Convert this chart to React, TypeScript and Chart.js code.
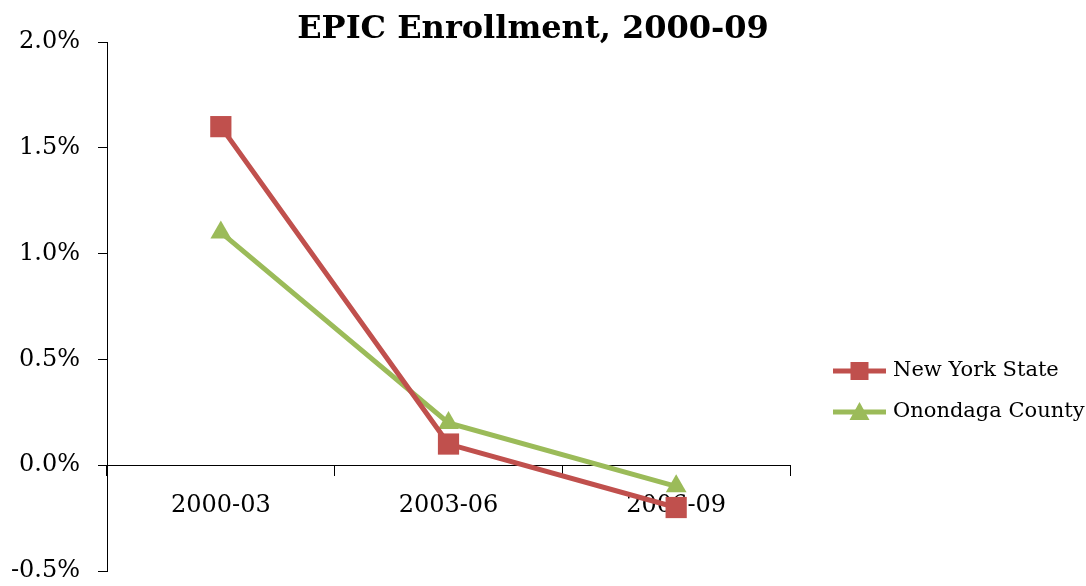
import React, { useEffect, useRef } from "react";
import { Chart, registerables } from "chart.js";

Chart.register(...registerables);

const title = "EPIC Enrollment, 2000-09";
const categories = ["2000-03", "2003-06", "2006-09"];
const seriesNames = ["New York State", "Onondaga County"];
const nysValues = [1.6, 0.1, -0.2];
const onondagaValues = [1.1, 0.2, -0.1];
const colors = ["#C0504D", "#9BBB59"];
const pointStyles = ["rect", "triangle"];
const pointRadii = [15, 12];

const FONT = "'DejaVu Serif', 'Liberation Serif', serif";

export default function App() {
  const ref = useRef<HTMLCanvasElement | null>(null);

  useEffect(() => {
    if (!ref.current) return;

    const titlePlugin = {
      id: "customTitleLegend",
      afterDraw(chart: any) {
        const ctx = chart.ctx;
        ctx.save();
        ctx.fillStyle = "#000";
        ctx.font = `bold 32px ${FONT}`;
        ctx.textAlign = "center";
        ctx.textBaseline = "middle";
        ctx.fillText(title, 533, 30);

        // legend
        const lx0 = 833;
        const lx1 = 886;
        const ys = [371, 412];
        chart.data.datasets.forEach((ds: any, i: number) => {
          const y = ys[i];
          ctx.strokeStyle = ds.borderColor;
          ctx.lineWidth = 5;
          ctx.beginPath();
          ctx.moveTo(lx0, y);
          ctx.lineTo(lx1, y);
          ctx.stroke();
          ctx.fillStyle = ds.borderColor;
          const cx = (lx0 + lx1) / 2;
          ctx.beginPath();
          if (ds.pointStyle === "rect") {
            ctx.rect(cx - 9, y - 9, 18, 18);
          } else {
            ctx.moveTo(cx, y - 10);
            ctx.lineTo(cx + 10, y + 8);
            ctx.lineTo(cx - 10, y + 8);
            ctx.closePath();
          }
          ctx.fill();
          ctx.fillStyle = "#000";
          ctx.font = `21px ${FONT}`;
          ctx.textAlign = "left";
          ctx.textBaseline = "middle";
          ctx.fillText(ds.label, 893, y);
        });
        ctx.restore();
      },
    };

    const chart = new Chart(ref.current, {
      type: "line",
      data: {
        labels: categories,
        datasets: [nysValues, onondagaValues].map((vals, i) => ({
          label: seriesNames[i],
          data: vals,
          borderColor: colors[i],
          backgroundColor: colors[i],
          pointBackgroundColor: colors[i],
          pointBorderColor: colors[i],
          pointStyle: pointStyles[i] as any,
          pointRadius: pointRadii[i],
          pointBorderWidth: 0,
          borderWidth: 5,
          tension: 0,
        })),
      },
      options: {
        animation: false,
        responsive: false,
        maintainAspectRatio: false,
        layout: { padding: { left: 0, top: 42, right: 296, bottom: 11 } },
        plugins: {
          legend: { display: false },
          title: { display: false },
          tooltip: { enabled: false },
        },
        scales: {
          x: {
            type: "category",
            position: { y: 0 } as any,
            offset: true,
            z: 1,
            afterFit: (scale: any) => {
              scale.height = 0;
              scale.paddingLeft = 0;
              scale.paddingRight = 0;
            },
            grid: {
              offset: true,
              drawOnChartArea: false,
              tickLength: 10,
              color: "#000",
              lineWidth: 1,
            },
            border: { color: "#000", width: 1 },
            ticks: {
              color: "#000",
              font: { family: FONT, size: 24 },
              padding: 16,
              maxRotation: 0,
            },
          },
          y: {
            min: -0.5,
            max: 2.0,
            afterFit: (scale: any) => {
              scale.width = 107;
              scale.paddingTop = 0;
              scale.paddingBottom = 0;
            },
            grid: {
              drawOnChartArea: false,
              tickLength: 9,
              color: "#000",
              lineWidth: 1,
            },
            border: { color: "#000", width: 1 },
            ticks: {
              stepSize: 0.5,
              color: "#000",
              font: { family: FONT, size: 24 },
              padding: 18,
              callback: (v: any) => Number(v).toFixed(1) + "%",
            },
          },
        },
      },
      plugins: [titlePlugin],
    });

    return () => chart.destroy();
  }, []);

  return (
    <div style={{ position: "fixed", left: 0, top: 0, width: 1086, height: 586 }}>
      <canvas ref={ref} width={1086} height={586} style={{ display: "block" }} />
    </div>
  );
}
